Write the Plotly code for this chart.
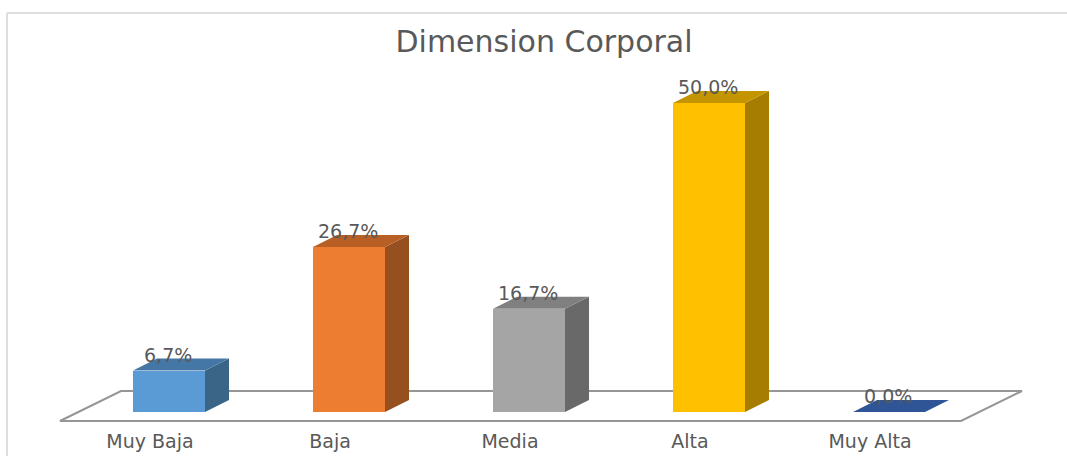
import plotly.graph_objects as go

# Chart data
categories = ["Muy Baja", "Baja", "Media", "Alta", "Muy Alta"]
percentages = [6.7, 26.7, 16.7, 50.0, 0.0]
chart_title = "Dimension Corporal"

# Face colours for each column
front_colors = ["#5B9BD5", "#ED7D31", "#A5A5A5", "#FFC000", "#2F5597"]
top_colors = ["#4577A6", "#B85F26", "#808080", "#C49500", "#2F5597"]
side_colors = ["#3A6587", "#964F1E", "#696969", "#A67D00", "#264478"]

WIDTH, HEIGHT = 1067, 456
BOTTOM_MARGIN = 31
PX_PER_CATEGORY = 180.0
PX_PER_PERCENT = 6.18
X_ZERO_PX = 169.0
Y_ZERO_PX = 412.0

BAR_WIDTH = 72 / PX_PER_CATEGORY
DEPTH_X = 24 / PX_PER_CATEGORY
DEPTH_Y = 12 / PX_PER_PERCENT

# Category labels follow the front edge of the floor, left of the column centres
TICK_OFFSET = -19 / PX_PER_CATEGORY

# Floor parallelogram of the 3D scene, in axis units
FLOOR_LEFT = (60 - X_ZERO_PX) / PX_PER_CATEGORY
FLOOR_RIGHT = (961 - X_ZERO_PX) / PX_PER_CATEGORY
FLOOR_SHIFT_X = 61 / PX_PER_CATEGORY
FLOOR_FRONT = (Y_ZERO_PX - 421) / PX_PER_PERCENT
FLOOR_BACK = (Y_ZERO_PX - 391) / PX_PER_PERCENT

FONT = "DejaVu Sans"
TEXT_GREY = "#595959"
FLOOR_GREY = "#969696"
FRAME_GREY = "#DEDEDE"

positions = list(range(len(categories)))
half = BAR_WIDTH / 2

fig = go.Figure()

# Front faces
fig.add_trace(go.Bar(
    x=positions,
    y=percentages,
    width=BAR_WIDTH,
    marker=dict(color=front_colors, line=dict(width=0)),
    showlegend=False,
    hovertemplate="%{y:.1f}%<extra></extra>",
))


def add_face(xs, ys, color):
    fig.add_trace(go.Scatter(
        x=xs, y=ys, mode="lines", fill="toself", fillcolor=color,
        line=dict(width=0, color=color), showlegend=False, hoverinfo="skip",
    ))


# Side and top faces, extruded from each column's value
for pos, value, side, top in zip(positions, percentages, side_colors, top_colors):
    left, right = pos - half, pos + half
    add_face(
        [right, right + DEPTH_X, right + DEPTH_X, right, right],
        [0, DEPTH_Y, value + DEPTH_Y, value, 0],
        side,
    )
    add_face(
        [left, right, right + DEPTH_X, left + DEPTH_X, left],
        [value, value, value + DEPTH_Y, value + DEPTH_Y, value],
        top,
    )

# Value labels sit just above each column's front edge
for pos, value in zip(positions, percentages):
    fig.add_annotation(
        x=pos, y=value, yshift=16, xshift=-1, showarrow=False,
        text=f"{value:.1f}%".replace(".", ","),
        font=dict(family=FONT, size=19, color=TEXT_GREY),
    )

floor_path = (
    f"M {FLOOR_LEFT} {FLOOR_FRONT} L {FLOOR_RIGHT} {FLOOR_FRONT} "
    f"L {FLOOR_RIGHT + FLOOR_SHIFT_X} {FLOOR_BACK} "
    f"L {FLOOR_LEFT + FLOOR_SHIFT_X} {FLOOR_BACK} Z"
)

plot_height = HEIGHT - BOTTOM_MARGIN
frame_top = 1 - 13 / plot_height
frame_left = 7 / WIDTH

fig.update_layout(
    width=WIDTH,
    height=HEIGHT,
    autosize=False,
    margin=dict(l=0, r=0, t=0, b=BOTTOM_MARGIN),
    paper_bgcolor="white",
    plot_bgcolor="white",
    bargap=0,
    title=dict(
        text=chart_title,
        x=544 / WIDTH, xanchor="center", xref="paper",
        y=1 - 41 / HEIGHT, yanchor="middle", yref="container",
        font=dict(family=FONT, size=30, color=TEXT_GREY),
    ),
    xaxis=dict(
        range=[-X_ZERO_PX / PX_PER_CATEGORY, (WIDTH - X_ZERO_PX) / PX_PER_CATEGORY],
        tickmode="array",
        tickvals=[pos + TICK_OFFSET for pos in positions],
        ticktext=categories,
        ticks="",
        ticklabelstandoff=3,
        tickfont=dict(family=FONT, size=19, color=TEXT_GREY),
        showgrid=False,
        zeroline=False,
        showline=False,
    ),
    yaxis=dict(
        range=[-(HEIGHT - BOTTOM_MARGIN - Y_ZERO_PX) / PX_PER_PERCENT, Y_ZERO_PX / PX_PER_PERCENT],
        visible=False,
        showgrid=False,
        zeroline=False,
    ),
    shapes=[
        dict(
            type="path", path=floor_path, xref="x", yref="y", layer="below",
            fillcolor="white", line=dict(color=FLOOR_GREY, width=2),
        ),
        dict(
            type="line", xref="paper", yref="paper", layer="below",
            x0=frame_left, x1=1, y0=frame_top, y1=frame_top,
            line=dict(color=FRAME_GREY, width=2),
        ),
        dict(
            type="line", xref="paper", yref="paper", layer="below",
            x0=frame_left, x1=frame_left, y0=frame_top, y1=-BOTTOM_MARGIN / plot_height,
            line=dict(color=FRAME_GREY, width=2),
        ),
    ],
)

fig.write_html("out.html", config=dict(displayModeBar=False))
